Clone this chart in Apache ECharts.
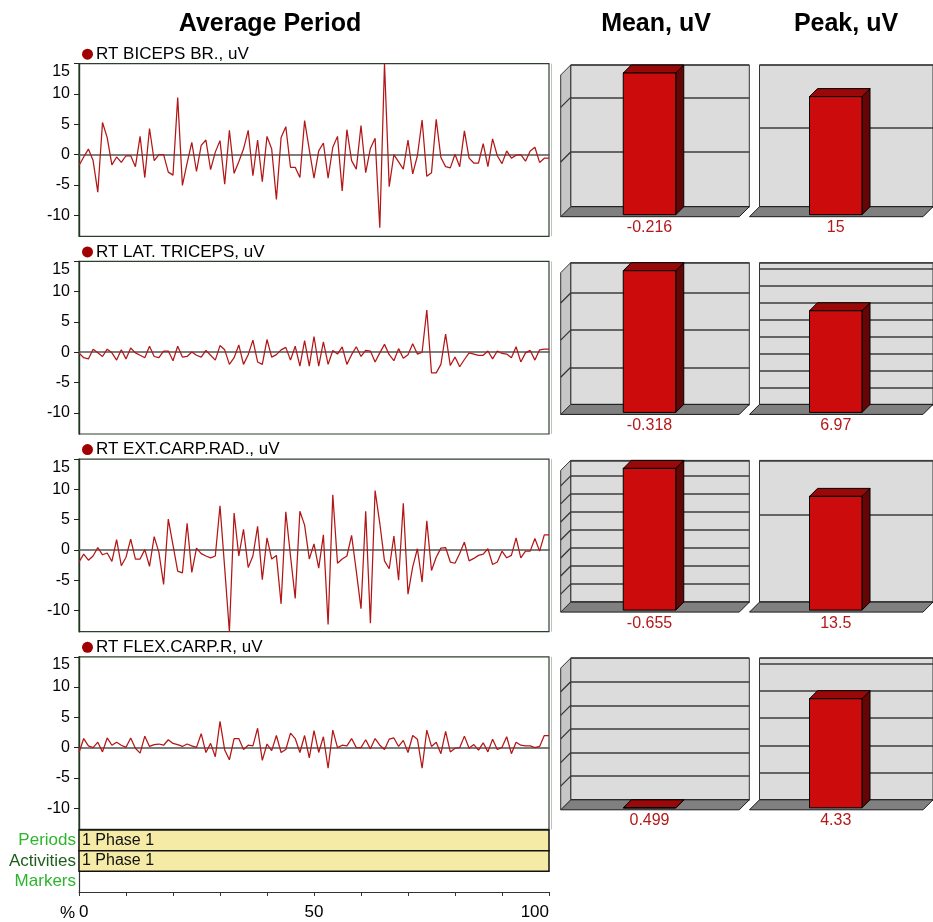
<!DOCTYPE html>
<html>
<head>
<meta charset="utf-8">
<script src="https://cdn.jsdelivr.net/npm/echarts@6/dist/echarts.min.js"></script>
<style>
html,body{margin:0;padding:0;background:#fff}
#chart{width:933px;height:922px}
</style>
</head>
<body>
<div id="chart"></div>
<script>
// ---- data ---------------------------------------------------------------
// Time-normalised position within the averaged period, % (0..100)
const percent = Array.from({length: 101}, (_, i) => i);

const channels = ['RT BICEPS BR., uV', 'RT LAT. TRICEPS, uV', 'RT EXT.CARP.RAD., uV', 'RT FLEX.CARP.R, uV'];

const biceps = [-1.8,-0.4,0.9,-1.0,-6.2,5.3,2.8,-1.7,-0.4,-1.3,
  -0.2,-0.2,-2.0,3.0,-3.8,4.3,-1.0,0.0,0.0,-2.9,
  -3.4,9.4,-5.1,-1.4,2.0,-2.8,1.5,2.4,-2.5,0.4,
  2.3,-4.9,4.0,-3.1,-1.2,0.9,4.0,-3.5,2.4,-4.5,
  3.0,0.9,-7.4,2.8,4.6,-2.1,-2.1,-3.8,5.6,0.8,
  -3.9,0.6,1.9,-3.9,1.2,3.0,-6.0,4.1,-1.0,-2.4,
  4.8,-3.0,1.0,2.7,-12.1,15,-5.3,0.0,-1.2,-2.4,
  2.4,-3.2,-0.2,5.7,-3.6,-3.0,5.8,-0.5,-2.0,-2.2,
  0.05,-2.0,3.9,-0.6,-1.4,-1.4,1.8,-2.0,2.6,-0.2,
  -1.5,0.6,-0.6,-0.1,0.0,-1.1,0.6,1.2,-1.3,-0.6,-0.6];

const triceps = [-0.1,-0.9,-1.1,0.5,-0.1,-0.7,0.5,-0.1,-1.3,0.4,
  -1.1,0.7,-0.1,-0.5,-0.9,1.0,-0.7,-0.9,0.2,0.2,
  -1.4,1.0,-0.8,-0.7,0.05,-0.5,-0.8,0.3,-0.5,-1.3,
  1.1,0.4,-2.0,-0.9,1.2,-2.0,-0.4,2.0,-1.6,-2.0,
  2.1,-0.8,-0.4,0.4,0.8,-1.3,1.0,-2.3,1.9,-2.3,
  2.6,-2.3,1.7,-2.0,0.3,-0.3,0.9,-2.0,-0.4,0.9,
  -0.7,0.3,0.2,-1.6,-0.1,1.3,-0.4,-1.4,0.6,-1.0,
  -0.4,1.4,-0.3,0.0,6.97,-3.4,-3.4,-2.0,3.0,-2.2,
  -0.8,-2.4,-1.2,-0.1,-0.3,-0.5,-0.5,0.2,-1.1,0.2,
  -0.2,-0.3,-0.9,0.9,-1.6,-0.1,0.3,-1.3,0.4,0.5,0.5];

const extCarpRad = [-2.0,-0.7,-1.7,-1.0,0.4,-0.8,-0.5,-1.9,1.7,-2.6,
  -1.2,1.8,-1.5,-1.5,0.05,-2.7,2.2,-0.4,-5.7,5.1,
  0.8,-3.5,-3.8,4.4,-3.7,0.3,-0.6,-1.0,-1.3,-1.0,
  7.3,-3.0,-13.5,6.1,-1.0,3.4,-2.9,-1.0,3.9,-4.9,
  2.0,-1.5,-0.9,-8.9,6.3,-1.0,-8.0,6.4,4.1,-1.5,
  1.0,-3.0,2.5,-12.3,9.1,-2.2,-1.5,-1.0,2.4,-3.5,
  -9.7,6.4,-12.1,9.8,4.4,-1.8,-3.1,2.3,-5.0,7.7,
  -7.3,-2.8,0.2,-5.3,4.8,-3.4,-1.2,0.3,0.4,-2.0,
  -2.2,-0.6,1.3,-1.8,-1.4,-0.9,-0.7,0.2,-2.4,-2.0,
  -0.2,-1.3,-0.9,2.0,-1.3,-0.2,-0.2,1.9,-0.2,2.5,2.5];

const flexCarpR = [-0.8,1.5,0.3,0.0,0.9,-0.7,1.6,0.4,0.9,0.4,
  0.05,1.6,-0.1,-0.9,1.9,0.2,0.5,0.6,0.4,1.3,
  0.7,0.5,0.2,0.6,0.3,0.05,2.3,-0.8,0.7,-1.5,
  4.33,-0.4,-2.0,1.5,1.5,-0.3,0.4,0.3,3.2,-2.1,
  0.6,-0.5,2.0,-0.8,-0.3,2.4,1.5,-0.8,2.0,-1.7,
  2.8,-0.8,1.8,-3.4,2.9,0.0,0.4,0.3,1.5,0.0,
  0.0,1.3,-0.2,1.5,0.4,-0.3,1.4,1.6,0.2,1.2,
  -0.8,2.0,1.4,-3.4,2.9,0.2,0.9,-1.0,2.7,-0.7,
  -0.1,0.0,1.9,-0.1,0.5,-0.4,0.8,-0.7,1.4,-0.3,
  0.05,1.8,-1.0,0.9,0.4,0.3,0.3,0.0,0.2,2.0,2.0];

const meanValues = [-0.216, -0.318, -0.655, 0.499];
const peakValues = [15, 6.97, 13.5, 4.33];

const yTicks = [-10, -5, 0, 5, 10, 15];
const xTickLabels = [0, 50, 100];

const rowNames = ['Periods', 'Activities', 'Markers'];
const periods = [[0, 100, '1 Phase 1']];
const activities = [[0, 100, '1 Phase 1']];

// ---- layout -------------------------------------------------------------
const FONT = '"Liberation Sans", Arial, Helvetica, sans-serif';
const ROW = 197.7;
const LINE = {left: 79, width: 470, top: 63.7, height: 172.6};
const WALL = {top: 65, height: 141.7};
const MEAN_WALL = {left: 570.7, width: 178.6};
const PEAK_WALL = {left: 759.5, width: 178.5};
const BAND = {left: 79, width: 470, top: 830, height: 63};

const lineSeries = [biceps, triceps, extCarpRad, flexCarpR];
const allValues = [].concat(...lineSeries);
const yMin = Math.min(...allValues);
const yMax = Math.max(...allValues);

// Value range of the mean wall: spans from the mean to zero (or half a unit above a positive mean)
function meanScale(v) {
  return v < 0 ? {min: v, max: 0, step: 1 / 12} : {min: v, max: v + 0.5, step: 1 / 12};
}
// Value range of the peak wall: 20 % head-room above the whole-unit part of the peak
function peakScale(v) {
  const whole = Math.trunc(v);
  const k = v / whole;
  const grid = v >= 10 ? 10 : 1;
  return {min: 0, max: 1.2 * whole * k * k, step: grid * k};
}

// 3-D box with floor, optional side wall and a prism bar
function bar3d(meta) {
  return function (params, api) {
    const cs = params.coordSys;
    const v = api.value(1);
    const D = 10, B = 8, W = 52.5;
    const left = cs.x, right = cs.x + cs.width, top = cs.y, floor = cs.y + cs.height;
    const base = Math.min(Math.max(0, meta.min), meta.max);
    const yv = api.coord([0, v])[1];
    const yb = api.coord([0, base])[1];
    const yTop = Math.min(yv, yb), yBot = Math.max(yv, yb);
    const cx = left + cs.width / 2 - 10.5;
    const x0 = cx - W / 2, x1 = cx + W / 2;
    const ft = yTop + B, fb = yBot + B;
    const edge = {stroke: '#000', lineWidth: 1};
    const children = [];
    children.push({type: 'polygon', shape: {points: [[left - D, floor + D], [left, floor], [right, floor], [right - D, floor + D]]},
      style: {fill: '#808080', stroke: '#1a1a1a', lineWidth: 1}});
    if (meta.sideWall) {
      children.push({type: 'polygon', shape: {points: [[left - D, top + D], [left, top], [left, floor], [left - D, floor + D]]},
        style: {fill: '#c6c6c6', stroke: '#333', lineWidth: 1}});
      for (let t = meta.min + meta.step; t < meta.max - 1e-9; t += meta.step) {
        const y = api.coord([0, t])[1];
        children.push({type: 'line', shape: {x1: left, y1: y, x2: left - D, y2: y + D}, style: {stroke: '#333', lineWidth: 1.2}});
      }
    }
    children.push({type: 'polygon', shape: {points: [[x1, ft], [x1 + B, ft - B], [x1 + B, fb - B], [x1, fb]]},
      style: Object.assign({fill: '#650606'}, edge)});
    children.push({type: 'polygon', shape: {points: [[x0, ft], [x1, ft], [x1 + B, ft - B], [x0 + B, ft - B]]},
      style: Object.assign({fill: '#9a0909'}, edge)});
    children.push({type: 'rect', shape: {x: x0, y: ft, width: W, height: fb - ft},
      style: Object.assign({fill: '#cc0c0c'}, edge)});
    children.push({type: 'text', x: cx, y: floor + 21,
      style: {text: String(v), fill: '#b3191b', font: '16px ' + FONT, align: 'center', verticalAlign: 'middle',
        textAlign: 'center', textVerticalAlign: 'middle'}});
    return {type: 'group', children: children};
  };
}

const grid = [], xAxis = [], yAxis = [], series = [], graphic = [];

// ---- averaged EMG traces -------------------------------------------------
lineSeries.forEach((vals, i) => {
  const top = LINE.top + ROW * i;
  grid.push({left: LINE.left, top: top, width: LINE.width, height: LINE.height,
    show: true, backgroundColor: '#fff', borderColor: '#2f3f2f', borderWidth: 1.2});
  xAxis.push({gridIndex: i, type: 'category', data: percent, boundaryGap: false,
    axisLine: {show: true, onZero: true, lineStyle: {color: '#555', width: 1.6}},
    axisTick: {show: false}, axisLabel: {show: false}, splitLine: {show: false}});
  yAxis.push({gridIndex: i, type: 'value', min: yMin, max: yMax,
    axisLine: {show: true, onZero: false, lineStyle: {color: '#1e3a1e', width: 1.4}},
    axisTick: {show: true, length: 5, customValues: yTicks, lineStyle: {color: '#222'}},
    axisLabel: {customValues: yTicks, fontSize: 16, color: '#000', margin: 9, fontFamily: FONT,
      verticalAlignMaxLabel: 'top'},
    splitLine: {show: false}});
  series.push({type: 'line', xAxisIndex: i, yAxisIndex: i, data: vals, symbol: 'none', showSymbol: false,
    lineStyle: {color: '#b31616', width: 1.25}, silent: true, z: 3});
  graphic.push({type: 'circle', shape: {cx: 87.5, cy: top - 9.5, r: 5.5}, style: {fill: '#a00000'}});
  graphic.push({type: 'text', x: 96, y: top - 9.5,
    style: {text: channels[i], font: '17px ' + FONT, fill: '#000', align: 'left', verticalAlign: 'middle',
      textAlign: 'left', textVerticalAlign: 'middle'}});
  graphic.push({type: 'line', shape: {x1: 551.5, y1: top, x2: 551.5, y2: top + LINE.height},
    style: {stroke: '#c0c0c0', lineWidth: 1}});
});

// ---- mean and peak 3-D bars ---------------------------------------------
function addBarPanel(wall, row, value, scale, sideWall) {
  const gi = grid.length;
  grid.push({left: wall.left, top: WALL.top + ROW * row, width: wall.width, height: WALL.height,
    show: true, backgroundColor: '#dcdcdc', borderColor: '#333', borderWidth: 1});
  xAxis.push({gridIndex: gi, type: 'category', data: ['v'], show: false});
  yAxis.push({gridIndex: gi, type: 'value', min: scale.min, max: scale.max, interval: scale.step,
    axisLine: {show: false}, axisTick: {show: false}, axisLabel: {show: false},
    splitLine: {show: true, lineStyle: {color: '#3c3c3c', width: 1.5}}});
  series.push({type: 'custom', xAxisIndex: gi, yAxisIndex: gi, data: [[0, value]], clip: false, silent: true, z: 4,
    renderItem: bar3d(Object.assign({sideWall: sideWall}, scale))});
}
meanValues.forEach((v, i) => addBarPanel(MEAN_WALL, i, v, meanScale(v), true));
peakValues.forEach((v, i) => addBarPanel(PEAK_WALL, i, v, peakScale(v), false));

// ---- period / activity bands and % axis ----------------------------------
const bi = grid.length;
grid.push({left: BAND.left, top: BAND.top, width: BAND.width, height: BAND.height, show: false});
xAxis.push({gridIndex: bi, type: 'value', min: 0, max: 100, interval: 10,
  axisLine: {show: true, onZero: false, lineStyle: {color: '#333', width: 1}},
  axisTick: {show: true, length: 4, lineStyle: {color: '#333'}},
  axisLabel: {fontSize: 17, color: '#000', margin: 12, fontFamily: FONT,
    formatter: v => (xTickLabels.indexOf(v) >= 0 ? String(v) : ''),
    alignMinLabel: 'left', alignMaxLabel: 'right'},
  splitLine: {show: false},
  name: '%', nameLocation: 'start', nameGap: 2,
  nameTextStyle: {fontSize: 17, color: '#000', fontFamily: FONT, verticalAlign: 'top', padding: [13, 0, 0, 0]}});
yAxis.push({gridIndex: bi, type: 'category', data: rowNames, inverse: true,
  axisLine: {show: true, onZero: false, lineStyle: {color: '#333', width: 1.2}},
  axisTick: {show: false}, splitLine: {show: false},
  axisLabel: {interval: 0, hideOverlap: false, fontSize: 17, margin: 3, fontFamily: FONT,
    formatter: v => '{' + v + '|' + v + '}',
    rich: {Periods: {color: '#2db52d', fontSize: 17, fontFamily: FONT},
      Activities: {color: '#1d5e1d', fontSize: 17, fontFamily: FONT},
      Markers: {color: '#2db52d', fontSize: 17, fontFamily: FONT}}}});

function bandSeries(rowIndex, segs) {
  return {type: 'custom', xAxisIndex: bi, yAxisIndex: bi, silent: true, z: 4,
    data: segs.map(s => [s[0], s[1], rowIndex]),
    renderItem: function (params, api) {
      const a = api.coord([api.value(0), api.value(2)]);
      const b = api.coord([api.value(1), api.value(2)]);
      const h = api.size([0, 1])[1];
      return {type: 'group', children: [
        {type: 'rect', shape: {x: a[0], y: a[1] - h / 2, width: b[0] - a[0], height: h},
          style: {fill: '#f5eba6', stroke: '#111', lineWidth: 1.5}},
        {type: 'text', x: a[0] + 3, y: a[1],
          style: {text: segs[params.dataIndex][2], font: '16px ' + FONT, fill: '#111',
            align: 'left', verticalAlign: 'middle', textAlign: 'left', textVerticalAlign: 'middle'}}
      ]};
    }};
}
series.push(bandSeries(0, periods));
series.push(bandSeries(1, activities));

// ---- headings -------------------------------------------------------------
[['Average Period', 270], ['Mean, uV', 656], ['Peak, uV', 846]].forEach(h => {
  graphic.push({type: 'text', x: h[1], y: 24,
    style: {text: h[0], font: 'bold 25px ' + FONT, fill: '#000', align: 'center', verticalAlign: 'middle',
      textAlign: 'center', textVerticalAlign: 'middle'}});
});

const chart = echarts.init(document.getElementById('chart'), null, {renderer: 'canvas'});
chart.setOption({
  animation: false,
  backgroundColor: '#fff',
  textStyle: {fontFamily: FONT},
  grid: grid, xAxis: xAxis, yAxis: yAxis, series: series,
  graphic: {elements: graphic}
});
</script>
</body>
</html>
